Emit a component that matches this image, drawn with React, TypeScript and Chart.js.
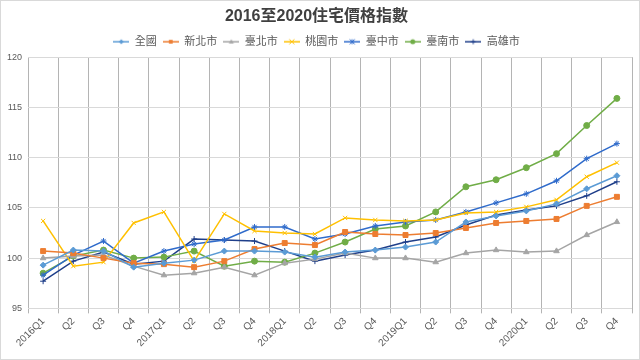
import React, { useEffect, useRef } from "react";
import { Chart, registerables } from "chart.js";

Chart.register(...registerables);

const categories = [
  "2016Q1", "Q2", "Q3", "Q4",
  "2017Q1", "Q2", "Q3", "Q4",
  "2018Q1", "Q2", "Q3", "Q4",
  "2019Q1", "Q2", "Q3", "Q4",
  "2020Q1", "Q2", "Q3", "Q4",
];

const seriesNames = ["全國", "新北市", "臺北市", "桃園市", "臺中市", "臺南市", "高雄市"];

const national = [99.3, 100.8, 100.7, 99.1, 99.5, 99.8, 100.7, 100.7, 100.6, 100.1, 100.6, 100.8, 101.1, 101.6, 103.6, 104.2, 104.7, 105.4, 106.9, 108.2];
const newTaipei = [100.7, 100.5, 100.0, 99.5, 99.4, 99.1, 99.7, 100.9, 101.5, 101.3, 102.6, 102.4, 102.3, 102.5, 103.0, 103.5, 103.7, 103.9, 105.2, 106.1];
const taipei = [100.0, 100.2, 100.3, 99.2, 98.3, 98.5, 99.1, 98.3, 99.5, 99.9, 100.5, 100.0, 100.0, 99.6, 100.5, 100.8, 100.6, 100.7, 102.3, 103.6];
const taoyuan = [103.7, 99.2, 99.6, 103.5, 104.6, 99.7, 104.4, 102.7, 102.5, 102.4, 104.0, 103.8, 103.7, 103.8, 104.5, 104.6, 105.1, 105.8, 108.1, 109.5];
const taichung = [98.3, 100.3, 101.7, 99.5, 100.7, 101.4, 101.8, 103.1, 103.1, 101.9, 102.4, 103.2, 103.6, 103.8, 104.6, 105.5, 106.4, 107.7, 109.9, 111.4];
const tainan = [98.5, 100.2, 100.8, 100.0, 100.1, 100.7, 99.2, 99.7, 99.6, 100.5, 101.6, 102.9, 103.2, 104.6, 107.1, 107.8, 109.0, 110.4, 113.2, 115.9];
const kaohsiung = [97.7, 99.7, 100.6, 99.4, 99.7, 101.9, 101.8, 101.7, 100.7, 99.7, 100.3, 100.8, 101.6, 102.1, 103.3, 104.3, 104.8, 105.2, 106.2, 107.6];

const yTicks = [95, 100, 105, 110, 115, 120];

const seriesValues = [national, newTaipei, taipei, taoyuan, taichung, tainan, kaohsiung];
const seriesColors = ["#5B9BD5", "#ED7D31", "#A5A5A5", "#FFC000", "#2F6BCB", "#70AD47", "#1F3F8A"];
const seriesMarkers = ["rectRot", "rect", "triangle", "crossRot", "star", "circle", "cross"];
const seriesRadius = [3, 3.5, 3.2, 3, 3, 3, 3];

const FONT = "'Liberation Sans', 'Noto Sans CJK TC', sans-serif";
const TEXT = "#595959";

function drawMarker(ctx: CanvasRenderingContext2D, style: string, x: number, y: number, r: number, color: string) {
  ctx.save();
  ctx.fillStyle = color;
  ctx.strokeStyle = color;
  ctx.lineWidth = 1;
  ctx.beginPath();
  switch (style) {
    case "rectRot":
      ctx.moveTo(x, y - r); ctx.lineTo(x + r, y); ctx.lineTo(x, y + r); ctx.lineTo(x - r, y); ctx.closePath();
      ctx.fill();
      break;
    case "rect":
      ctx.rect(x - r * 0.75, y - r * 0.75, r * 1.5, r * 1.5);
      ctx.fill();
      break;
    case "triangle":
      ctx.moveTo(x, y - r); ctx.lineTo(x + r, y + r * 0.7); ctx.lineTo(x - r, y + r * 0.7); ctx.closePath();
      ctx.fill();
      break;
    case "crossRot":
      ctx.moveTo(x - r, y - r); ctx.lineTo(x + r, y + r); ctx.moveTo(x + r, y - r); ctx.lineTo(x - r, y + r);
      ctx.stroke();
      break;
    case "star":
      ctx.moveTo(x - r, y - r); ctx.lineTo(x + r, y + r); ctx.moveTo(x + r, y - r); ctx.lineTo(x - r, y + r);
      ctx.moveTo(x, y - r); ctx.lineTo(x, y + r);
      ctx.stroke();
      break;
    case "circle":
      ctx.arc(x, y, r, 0, Math.PI * 2);
      ctx.fill();
      break;
    case "cross":
      ctx.moveTo(x, y - r); ctx.lineTo(x, y + r); ctx.moveTo(x - r, y); ctx.lineTo(x + r, y);
      ctx.stroke();
      break;
  }
  ctx.restore();
}

function legendIcon(color: string, style: string): HTMLCanvasElement {
  const c = document.createElement("canvas");
  c.width = 16;
  c.height = 8;
  const ctx = c.getContext("2d")!;
  ctx.strokeStyle = color;
  ctx.lineWidth = 1.5;
  ctx.beginPath();
  ctx.moveTo(0, 4);
  ctx.lineTo(16, 4);
  ctx.stroke();
  drawMarker(ctx, style, 8, 4, 2.5, color);
  return c;
}

export default function App() {
  const canvasRef = useRef<HTMLCanvasElement | null>(null);

  useEffect(() => {
    document.body.style.margin = "0";
    const canvas = canvasRef.current;
    if (!canvas) return;
    const icons = seriesNames.map((_, i) => legendIcon(seriesColors[i], seriesMarkers[i]));

    const chart = new Chart(canvas, {
      type: "line",
      data: {
        labels: categories,
        datasets: seriesNames.map((name, i) => ({
          label: name,
          data: seriesValues[i],
          borderColor: seriesColors[i],
          backgroundColor: seriesColors[i],
          borderWidth: 1.5,
          pointStyle: seriesMarkers[i] as any,
          pointRadius: seriesRadius[i],
          pointBorderWidth: 1,
          pointBorderColor: seriesColors[i],
          pointBackgroundColor: seriesColors[i],
          tension: 0,
          fill: false,
        })),
      },
      options: {
        animation: false,
        responsive: false,
        maintainAspectRatio: false,
        layout: { padding: { left: 0, right: 7, top: 2, bottom: 8 } },
        plugins: {
          title: {
            display: true,
            text: "2016至2020住宅價格指數",
            color: "#404040",
            font: { family: FONT, size: 16, weight: "bold" },
            padding: { top: 4, bottom: 4 },
          },
          legend: {
            display: true,
            position: "top",
            labels: {
              color: TEXT,
              font: { family: FONT, size: 11 },
              usePointStyle: true,
              pointStyleWidth: 16,
              boxHeight: 8,
              padding: 6,
              generateLabels: (ch: any) =>
                ch.data.datasets.map((ds: any, i: number) => ({
                  text: ds.label,
                  fillStyle: seriesColors[i],
                  strokeStyle: seriesColors[i],
                  fontColor: TEXT,
                  lineWidth: 0,
                  pointStyle: icons[i],
                  hidden: false,
                  datasetIndex: i,
                })),
            },
          },
          tooltip: { enabled: false },
        },
        scales: {
          x: {
            offset: true,
            grid: {
              display: true,
              offset: true,
              color: "#B4B4B4",
              lineWidth: 1,
              drawTicks: true,
              tickLength: 5,
            },
            border: { display: false },
            ticks: {
              color: TEXT,
              font: { family: FONT, size: 10 },
              autoSkip: false,
              maxRotation: 45,
              minRotation: 45,
              padding: 2,
            },
          },
          y: {
            min: 95,
            max: 120,
            afterBuildTicks: (axis: any) => {
              axis.ticks = yTicks.map((v) => ({ value: v }));
            },
            grid: { color: "#D9D9D9", lineWidth: 1, drawTicks: false },
            border: { display: false },
            ticks: {
              color: TEXT,
              font: { family: FONT, size: 9 },
              padding: 6,
            },
          },
        },
      },
    });
    return () => chart.destroy();
  }, []);

  return (
    <div style={{ width: 640, height: 360, boxSizing: "border-box", border: "1px solid #D9D9D9", background: "#fff" }}>
      <canvas ref={canvasRef} width={638} height={358} style={{ display: "block" }} />
    </div>
  );
}
